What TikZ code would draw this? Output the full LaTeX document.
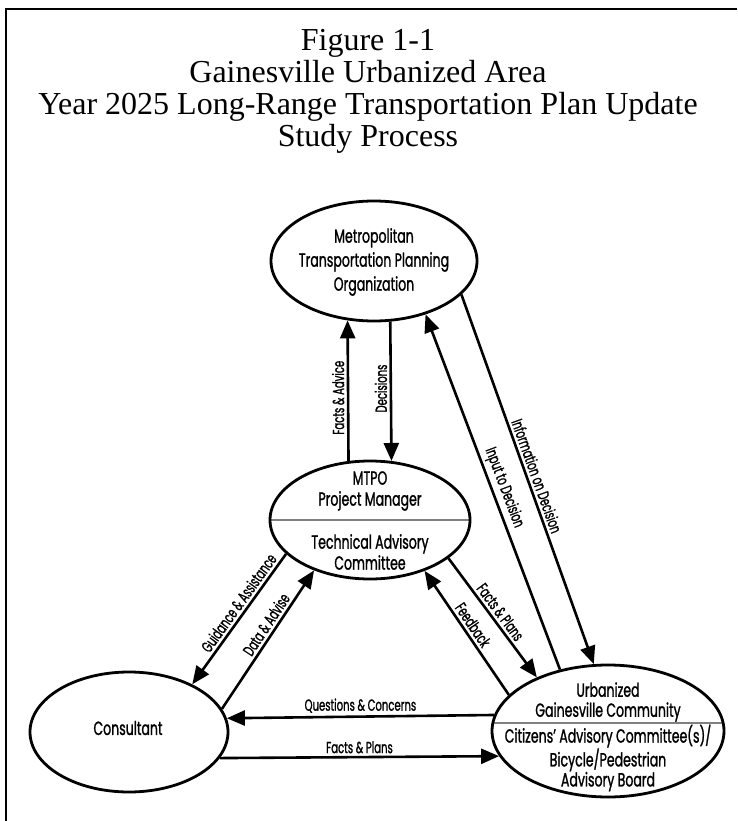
\documentclass[tikz,border=0pt]{standalone}
\usepackage{fontspec}
\setmainfont{Liberation Serif}
\newfontfamily\tfont[FakeStretch=1.0]{Liberation Serif}
\newfontfamily\dfont[FakeStretch=0.66,FakeBold=1.2]{Poppins}
\newfontfamily\lfont[FakeStretch=0.63,FakeBold=1.2]{Poppins}
\usetikzlibrary{arrows.meta,shapes.geometric}
\begin{document}
\begin{tikzpicture}[x=1pt,y=-1pt,
  oval/.style={ellipse, draw, line width=2.8pt, inner sep=0pt},
  arr/.style={line width=2.6pt, -{Triangle[length=18pt,width=15pt]}},
  ptext/.style={font=\dfont\fontsize{19}{24}\selectfont, align=center, inner sep=0pt},
  ltext/.style={font=\dfont\fontsize{19}{21}\selectfont, align=center, inner sep=0pt},
  utext/.style={font=\dfont\fontsize{19}{20}\selectfont, align=center, inner sep=0pt},
  lbl/.style={font=\lfont\fontsize{16}{18}\selectfont, inner sep=2.5pt},
  divider/.style={draw=gray, line width=1.3pt}
]
\useasboundingbox (0,0) rectangle (737,821);
\draw[line width=1.5pt] (6,821) -- (6,9) -- (737,9);

\node[align=center, font=\tfont\fontsize{32}{32}\selectfont, inner sep=0pt] (title) at (368,91)
  {Figure 1-1\\Gainesville Urbanized Area\\Year 2025 Long-Range Transportation Plan Update\\Study Process};

% ellipses
\node[oval, minimum width=206pt, minimum height=120pt] (mtpo) at (374,261) {};
\node[oval, minimum width=200pt, minimum height=118pt,
  path picture={\draw[divider] (path picture bounding box.west) -- (path picture bounding box.east);}] (mid) at (370,520) {};
\node[oval, minimum width=198pt, minimum height=120pt] (cons) at (129,732) {};
\node[oval, minimum width=232pt, minimum height=132pt,
  path picture={\draw[divider] ([yshift=8pt]path picture bounding box.west) -- ([yshift=8pt]path picture bounding box.east);}] (urb) at (608,731) {};

% texts
\node[ptext] (mtpot) at (374,262) {Metropolitan\\Transportation Planning\\Organization};
\node[ltext] (midt1) at (370,491) {MTPO\\Project Manager};
\node[ltext] (midt2) at (370,552) {Technical Advisory\\Committee};
\node[ltext] (const) at (128,728) {Consultant};
\node[utext] (urbt1) at (608,702) {Urbanized\\Gainesville Community};
\node[utext] (urbt2) at (608,758) {Citizens’ Advisory Committee(s)/\\Bicycle/Pedestrian\\Advisory Board};

% connectors
\draw[arr] (mid.110) -- node[lbl, pos=0.45, rotate=90, anchor=south] {Facts \& Advice} (mtpo.246.75);
\draw[arr] (mtpo.285.1) -- node[lbl, pos=0.48, rotate=90, anchor=south] {Decisions} (mid.70.9);
\draw[arr] (mtpo.339.15) -- node[lbl, midway, sloped, above] {Information on Decision} (urb.102.4);
\draw[arr] (urb.128.4) -- node[lbl, midway, sloped, above] {Input to Decision} (mtpo.314);
\draw[arr] (mid.202.4) -- node[lbl, pos=0.42, sloped, above] {Guidance \& Assistance} (cons.37);
\draw[arr] (cons.14.8) -- node[lbl, pos=0.57, sloped, above] {Data \& Advise} (mid.222.8);
\draw[arr] (mid.334.6) -- node[lbl, midway, sloped, above] {Facts \& Plans} (urb.143.5);
\draw[arr] (urb.160.2) -- node[lbl, pos=0.52, sloped, above] {Feedback} (mid.317.7);
\draw[arr] (urb.172.96) -- node[lbl, midway, above] {Questions \& Concerns} (cons.8.9);
\draw[arr] (cons.344.5) -- node[lbl, midway, above] {Facts \& Plans} (urb.193.7);
\end{tikzpicture}
\end{document}
